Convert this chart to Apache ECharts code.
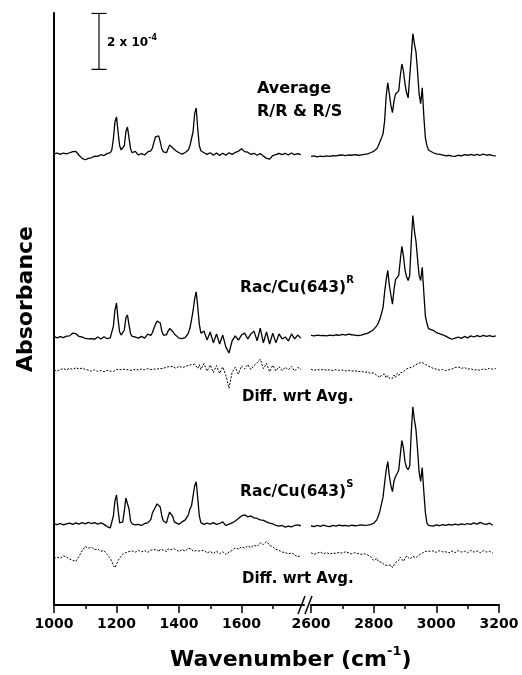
<!DOCTYPE html>
<html>
<head>
<meta charset="utf-8">
<script src="https://cdn.jsdelivr.net/npm/echarts@6.0.0/dist/echarts.min.js"></script>
<style>
  html, body { margin: 0; padding: 0; background: #fff; }
  #chart { width: 522px; height: 675px; }
</style>
</head>
<body>
<div id="chart"></div>
<script>
// wavenumbers (cm-1) for the two halves of the broken axis
const wnLow = [
  1000,1010,1020,1030,1040,1050,1060,1070,1080,1090,
  1100,1110,1120,1130,1140,1150,1160,1170,1180,1185,
  1190,1195,1200,1205,1210,1215,1220,1225,1230,1235,
  1240,1245,1250,1260,1270,1280,1290,1300,1310,1315,
  1320,1325,1330,1335,1340,1345,1350,1360,1365,1370,
  1375,1380,1385,1390,1400,1410,1420,1430,1435,1440,
  1445,1450,1455,1460,1465,1470,1480,1490,1500,1510,
  1520,1530,1540,1550,1560,1570,1580,1590,1600,1610,
  1620,1630,1640,1650,1660,1670,1680,1690,1700,1710,
  1720,1730,1740,1750,1760,1770,1780,1790
];
const wnHigh = [
  2600,2610,2620,2630,2640,2650,2660,2670,2680,2690,
  2700,2710,2720,2730,2740,2750,2760,2770,2780,2790,
  2800,2810,2815,2820,2825,2830,2835,2840,2845,2850,
  2855,2860,2865,2870,2875,2880,2885,2890,2895,2900,
  2905,2910,2915,2920,2925,2930,2935,2940,2945,2950,
  2955,2960,2965,2970,2975,2980,2990,3000,3010,3020,
  3030,3040,3050,3060,3070,3080,3090,3100,3110,3120,
  3130,3140,3150,3160,3170,3180,3190
];

const lowTicks = [1000, 1200, 1400, 1600];
const highTicks = [2600, 2800, 3000, 3200];

// absorbance, units of 1e-5, relative to each trace's baseline
const avgLow = [
  0, 0.3, -0.2, 0.3, 0, 0.4, 0.8, 0.9, -0.5, -1.6,
  -2.1, -1.6, -1.4, -0.8, -0.9, -0.3, -0.6, 0.1, 0.4, 1.4,
  5.4, 11.4, 13.2, 7.9, 2.9, 1.4, 1.1, 2.9, 7.9, 9.6,
  5.7, 1.8, 0.4, 0.9, -0.4, 0.1, -0.4, 0.7, 1.1, 2.1,
  4.3, 6.1, 6.8, 6.4, 4.3, 1.8, 0.7, 0.4, 1.8, 3.2,
  3.6, 2.1, 1.4, 1.1, 0.4, -0.1, 0.5, 1.4, 2.9, 5.4,
  7.9, 14.3, 16.4, 8.9, 2.9, 1.1, 0.4, -0.2, 0.4, -0.5,
  0.3, -0.6, 0.2, -0.5, 0.4, -0.2, 0.5, 0.9, 1.8, 0.8,
  0.6, -0.2, 0.2, -0.5, 0.1, -0.8, -1.6, -1.9, -0.6, -0.3,
  0.2, -0.3, 0.2, -0.4, 0.3, -0.3, 0.1, -0.3
];
const avgHigh = [
  -0.9, -0.7, -1.1, -0.8, -1.0, -0.7, -0.9, -0.6, -0.7, -0.5,
  -0.4, -0.6, -0.4, -0.5, -0.3, -0.5, -0.4, -0.2, 0.0, 0.4,
  0.9, 1.8, 2.9, 4.3, 5.7, 7.2, 11.8, 20.7, 25.4, 21.4,
  17.2, 14.7, 19.0, 21.4, 21.4, 22.5, 27.9, 32.1, 29.6, 25.0,
  21.8, 20.0, 20.7, 35.0, 42.9, 39.3, 36.4, 29.6, 21.4, 17.9,
  23.6, 13.6, 5.7, 2.9, 1.4, 0.7, 0.4, 0.0, -0.2, -0.4,
  -0.7, -0.5, -0.8, -0.9, -0.5, -0.7, -0.3, -0.5, -0.2, -0.5,
  -0.2, -0.5, -0.1, -0.5, -0.3, -0.6, -0.7
];

const racRLow = [
  0.2, -0.3, 0.1, -0.2, 0.3, 0.4, 1.4, 1.2, 0.2, 0.0,
  -0.5, -0.7, -0.6, -0.8, 0.0, -0.7, 0.1, -0.6, -0.3, 0.4,
  3.9, 9.6, 12.1, 6.4, 1.8, 0.7, 0.9, 2.5, 6.8, 7.9,
  4.3, 1.1, 0.2, 0.0, -0.4, 0.2, -0.4, 1.0, 0.6, 1.6,
  3.2, 4.6, 5.7, 6.1, 5.0, 2.1, 0.7, 0.8, 2.1, 3.0,
  3.2, 2.0, 1.1, 0.5, -0.4, -0.6, -0.2, 1.4, 3.2, 6.1,
  9.3, 13.6, 16.1, 10.7, 4.6, 1.4, 2.1, -1.1, 1.8, -2.1,
  1.1, -2.5, 0.7, -3.6, -5.7, -1.4, 0.4, -1.1, 0.7, 1.4,
  -0.7, 1.1, 2.1, -1.4, 3.2, -2.1, 1.8, -2.5, 1.4, -2.1,
  1.1, -0.7, 0.0, -1.4, 1.1, -0.7, 0.7, -0.4
];
const racRHigh = [
  0.6, 0.4, 0.7, 0.5, 0.6, 0.4, 0.7, 0.5, 0.8, 0.6,
  0.9, 0.7, 1.0, 0.8, 0.7, 0.5, 0.7, 1.0, 1.3, 1.9,
  2.7, 4.0, 5.0, 6.5, 8.5, 10.5, 16.0, 20.5, 23.8, 18.5,
  15.0, 11.7, 17.0, 20.6, 20.0, 22.0, 27.5, 32.4, 29.0, 24.0,
  21.5, 20.2, 22.0, 34.0, 43.4, 38.0, 34.2, 28.0, 22.0, 20.2,
  24.9, 16.0, 7.5, 4.9, 3.0, 2.6, 2.4, 1.6, 1.2, 0.8,
  0.3, -0.3, -0.8, -0.4, 0.0, -0.5, 0.2, -0.3, 0.4, 0.0,
  0.5, 0.1, 0.6, 0.2, 0.5, 0.1, 0.4
];

const diffRLow = [
  0.0, -0.3, 0.2, 0.5, 0.1, 0.6, 0.2, 0.8, 0.4, 0.7,
  0.2, 0.0, -0.4, 0.1, -0.5, -0.2, -0.6, -0.1, -0.4, 0.0,
  -0.5, -0.2, 0.2, -0.3, 0.1, -0.4, 0.3, -0.2, 0.2, 0.5,
  0.0, 0.4, -0.1, 0.3, 0.0, 0.4, 0.1, 0.5, 0.2, 0.6,
  0.3, 0.7, 0.4, 0.9, 0.5, 1.0, 0.6, 1.1, 0.7, 1.2,
  0.8, 1.3, 0.9, 0.6, 1.4, 0.9, 1.2, 1.7, 1.1, 1.9,
  1.3, 2.1, 1.5, 0.6, 1.9, 0.2, 2.3, -0.4, 1.8, -0.9,
  1.6, -1.2, 1.1, -2.0, -6.5, -0.8, 1.0, -1.4, 1.5, 0.4,
  2.0, 0.2, 1.6, 2.6, 3.9, 0.5, 2.4, -0.6, 1.7, -0.3,
  1.2, -0.2, 1.0, 0.1, 1.3, -0.3, 0.9, 0.3
];
const diffRHigh = [
  0.3, -0.1, 0.2, 0.0, 0.3, -0.1, 0.1, -0.2, 0.2, -0.1,
  0.0, -0.3, -0.1, -0.4, -0.2, -0.6, -0.4, -0.8, -0.7, -1.2,
  -1.0, -1.9, -1.6, -2.6, -1.8, -2.2, -1.4, -2.8, -2.0, -2.9,
  -2.4, -3.0, -1.8, -2.6, -1.2, -2.0, -1.0, -1.4, -0.6, -0.2,
  0.4, -0.2, 0.8, 0.3, 1.2, 1.6, 1.9, 2.2, 2.5, 2.3,
  2.7, 2.3, 2.0, 1.6, 1.4, 1.0, 0.6, 0.3, 0.0, 0.2,
  -0.2, 0.1, 0.4, 0.9, 1.1, 0.6, 0.9, 0.3, 0.5, 0.0,
  0.2, -0.1, 0.4, 0.2, 0.6, 0.3, 0.5
];

const racSLow = [
  0.4, 0.1, 0.5, 0.0, 0.4, 0.6, 0.2, 0.7, 0.3, 0.8,
  0.4, 0.9, 0.5, 0.8, 0.3, 0.7, 0.2, -0.6, -1.1, -0.4,
  3.2, 8.6, 10.7, 5.4, 0.7, 0.2, 1.1, 5.0, 9.6, 10.0,
  5.7, 1.4, 0.4, 0.0, 0.2, -0.2, 0.5, 0.7, 2.0, 4.3,
  5.4, 6.1, 7.5, 7.9, 6.4, 3.2, 1.4, 0.7, 2.9, 4.6,
  5.0, 3.0, 1.1, 0.6, 0.2, 1.1, 1.8, 3.6, 5.7, 6.8,
  7.5, 13.9, 15.4, 9.6, 3.2, 0.8, 0.2, 0.6, 0.3, 0.8,
  0.2, 0.5, 1.1, -0.2, 0.3, 0.7, 1.4, 2.3, 3.2, 3.6,
  2.9, 3.2, 2.5, 2.3, 1.8, 1.6, 1.1, 0.6, 0.4, -0.2,
  -0.4, -0.2, -0.8, -0.4, -0.7, -0.2, 0.0, -0.3
];
const racSHigh = [
  -0.3, -0.6, -0.2, -0.5, -0.1, -0.4, -0.6, -0.2, -0.4, -0.1,
  -0.3, -0.2, -0.4, -0.1, -0.3, -0.2, 0.0, -0.2, -0.1, 0.1,
  0.6, 1.8, 3.2, 5.0, 7.5, 10.0, 15.0, 19.6, 22.6, 17.5,
  14.0, 11.9, 15.8, 17.3, 17.8, 19.5, 25.0, 30.1, 27.5, 22.5,
  20.5, 19.7, 21.0, 33.0, 42.2, 37.5, 34.0, 27.0, 19.0, 15.5,
  20.5, 12.0, 4.5, 0.6, -0.2, 0.1, -0.4, 0.0, -0.3, 0.1,
  -0.2, 0.2, -0.1, 0.3, 0.0, 0.4, 0.1, 0.5, 0.2, 0.7,
  0.3, 0.9, 0.4, 0.2, 0.6, -0.1
];

const diffSLow = [
  -2.3, -1.8, -2.2, -1.4, -1.7, -2.5, -3.0, -3.3, -1.5, 0.4,
  2.0, 1.4, 1.7, 0.9, 1.1, 0.3, 0.5, -0.8, -2.2, -3.4,
  -4.8, -5.6, -4.4, -3.0, -2.2, -1.6, -0.7, -1.0, -0.2, -0.4,
  0.2, -0.3, 0.4, 0.0, 0.6, 0.1, 0.5, -0.1, 0.7, 0.2,
  0.8, 0.3, 0.9, 0.1, 1.0, 0.4, 0.7, 0.2, 1.1, 0.5,
  0.9, 0.3, 1.2, 0.6, 0.2, 0.9, 0.4, 1.3, 0.6, 1.1,
  0.3, 1.0, 0.5, -0.2, 0.4, 0.1, 0.6, -0.3, 0.2, -0.5,
  0.3, -0.6, 0.1, -0.8, 0.0, 0.6, 1.5, 1.1, 1.9, 1.4,
  2.2, 1.6, 2.5, 2.0, 3.3, 2.7, 3.8, 2.4, 1.9, 1.0,
  0.6, 0.0, -0.2, -0.6, -0.3, -1.0, -1.7, -1.2
];
const diffSHigh = [
  -0.3, -0.8, -0.4, 0.0, -0.6, -0.2, -0.7, -0.3, -0.5, -0.1,
  -0.4, 0.1, -0.3, -0.6, -0.2, -0.5, -0.8, -0.6, -1.0, -1.6,
  -3.0, -2.2, -3.4, -2.8, -3.6, -3.3, -4.6, -3.9, -4.8, -5.2,
  -4.6, -5.5, -6.2, -3.7, -3.2, -3.0, -1.8, -1.6, -3.3, -3.4,
  -1.4, -0.9, -2.5, -3.0, -1.6, -1.5, -2.0, -2.3, -1.0, -1.2,
  -0.4, -0.5, 0.2, -0.3, 0.3, 0.0, 0.4, -0.1, 0.5, 0.1,
  0.1, -0.3, 0.4, -0.2, 0.5, 0.0, 0.3, -0.2, 0.6, 0.0,
  0.4, -0.2, 0.5, 0.0, 0.3, -0.3
];

// vertical offsets of the stacked traces (same units)
const offAvg = 161.1;
const offRacR = 95.7;
const offDiffR = 83.9;
const offRacS = 28.6;
const offDiffS = 18.9;

// scale bar: 2 x 10^-4 = 20 units
const barX = 1144;
const barTop = 211.3;
const barSize = 20;
const barCap = 24;

const chart = echarts.init(document.getElementById('chart'));
const FONT = 'DejaVu Sans';

function trace(vals, wn, off, axis, dotted) {
  return {
    type: 'line',
    xAxisIndex: axis,
    yAxisIndex: axis,
    data: vals.map((v, i) => [wn[i], +(v + off).toFixed(2)]),
    showSymbol: false,
    symbol: 'none',
    silent: true,
    lineStyle: {
      color: '#000',
      width: dotted ? 1 : 1.3,
      type: dotted ? [2, 1.5] : 'solid'
    }
  };
}

function xAxisCfg(grid, min, max, tickVals) {
  return {
    type: 'value',
    gridIndex: grid,
    min: min,
    max: max,
    interval: 200,
    axisLine: { show: true, onZero: false, lineStyle: { color: '#000', width: 2 } },
    axisTick: { show: true, inside: false, length: 8, lineStyle: { color: '#000', width: 1.5 }, customValues: tickVals },
    minorTick: { show: true, splitNumber: 2, length: 4, lineStyle: { color: '#000', width: 1.5 } },
    axisLabel: {
      customValues: tickVals,
      formatter: v => String(v),
      margin: 12,
      color: '#000',
      fontFamily: FONT,
      fontWeight: 'bold',
      fontSize: 14
    },
    splitLine: { show: false },
    minorSplitLine: { show: false }
  };
}

function yAxisCfg(grid, visible) {
  return {
    type: 'value',
    gridIndex: grid,
    min: 0,
    max: 211.4,
    show: visible,
    axisLine: { show: true, lineStyle: { color: '#000', width: 2 } },
    axisTick: { show: false },
    axisLabel: { show: false },
    splitLine: { show: false }
  };
}

// bold text with optional superscript and trailing text
function richLabel(x, y, main, sup, tail, size, supSize, lh) {
  const base = { fontFamily: FONT, fontWeight: 'bold', fill: '#000', color: '#000' };
  let text = '{m|' + main + '}';
  if (sup) text += '{s|' + sup + '}';
  if (tail) text += '{m|' + tail + '}';
  return {
    type: 'text',
    x: x,
    y: y,
    silent: true,
    style: {
      text: text,
      align: 'left',
      verticalAlign: 'middle',
      rich: {
        m: Object.assign({ fontSize: size, lineHeight: lh }, base),
        s: Object.assign({ fontSize: supSize, lineHeight: supSize, verticalAlign: 'top' }, base)
      }
    }
  };
}

const scaleBar = {
  type: 'line',
  xAxisIndex: 0,
  yAxisIndex: 0,
  showSymbol: false,
  symbol: 'none',
  silent: true,
  lineStyle: { color: '#000', width: 1.2 },
  data: [
    [barX - barCap, barTop], [barX + barCap, barTop], [barX, barTop],
    [barX, barTop - barSize],
    [barX - barCap, barTop - barSize], [barX + barCap, barTop - barSize]
  ]
};

const option = {
  animation: false,
  backgroundColor: '#fff',
  grid: [
    { left: 54, top: 13, width: 250, height: 592 },
    { left: 311, top: 13, width: 188, height: 592 }
  ],
  xAxis: [
    xAxisCfg(0, 1000, 1800, lowTicks),
    xAxisCfg(1, 2600, 3200, highTicks)
  ],
  yAxis: [yAxisCfg(0, true), yAxisCfg(1, false)],
  series: [
    trace(avgLow, wnLow, offAvg, 0, false),
    trace(avgHigh, wnHigh, offAvg, 1, false),
    trace(racRLow, wnLow, offRacR, 0, false),
    trace(racRHigh, wnHigh, offRacR, 1, false),
    trace(diffRLow, wnLow, offDiffR, 0, true),
    trace(diffRHigh, wnHigh, offDiffR, 1, true),
    trace(racSLow, wnLow, offRacS, 0, false),
    trace(racSHigh, wnHigh, offRacS, 1, false),
    trace(diffSLow, wnLow, offDiffS, 0, true),
    trace(diffSHigh, wnHigh, offDiffS, 1, true),
    scaleBar
  ],
  graphic: [
    // axis break marks
    { type: 'line', silent: true, shape: { x1: 298, y1: 614, x2: 305, y2: 596 }, style: { stroke: '#000', lineWidth: 1.5 } },
    { type: 'line', silent: true, shape: { x1: 305, y1: 614, x2: 312, y2: 596 }, style: { stroke: '#000', lineWidth: 1.5 } },
    richLabel(107, 43, '2 x 10', '-4', null, 12, 8, 18),
    richLabel(257, 89, 'Average', null, null, 16, 10, 20),
    richLabel(257, 112, 'R/R & R/S', null, null, 16, 10, 20),
    richLabel(240, 288, 'Rac/Cu(643)', 'R', null, 15.5, 10, 26),
    richLabel(242, 397, 'Diff. wrt Avg.', null, null, 15, 10, 20),
    richLabel(240, 492, 'Rac/Cu(643)', 'S', null, 15.5, 10, 26),
    richLabel(242, 579, 'Diff. wrt Avg.', null, null, 15, 10, 20),
    // axis titles
    {
      type: 'text', x: 26, y: 299, rotation: Math.PI / 2, silent: true,
      style: { text: 'Absorbance', font: 'bold 22px "DejaVu Sans"', fill: '#000', align: 'center', verticalAlign: 'middle' }
    },
    richLabel(170, 660, 'Wavenumber (cm', '-1', ')', 22, 13, 30)
  ]
};

chart.setOption(option);
</script>
</body>
</html>
